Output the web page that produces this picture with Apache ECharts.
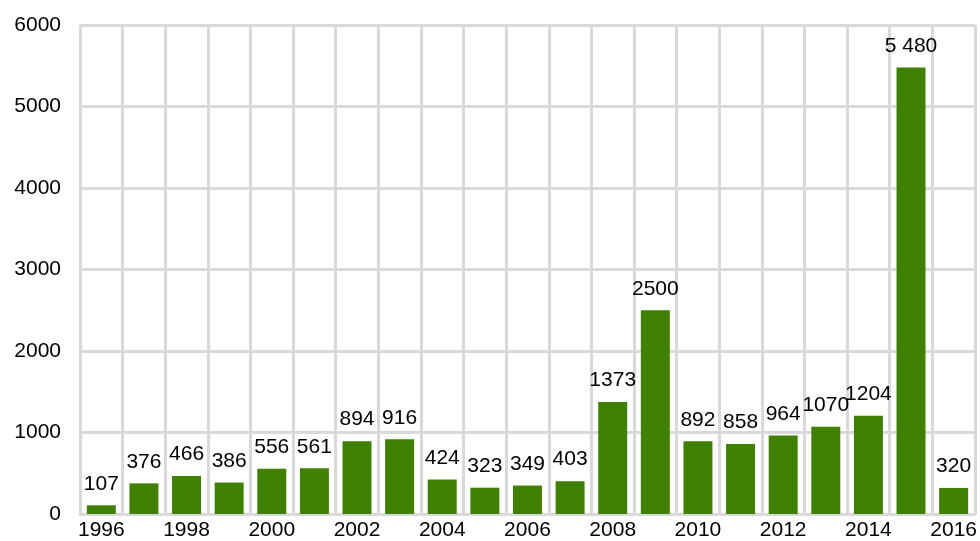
<!DOCTYPE html>
<html>
<head>
<meta charset="utf-8">
<script src="https://cdn.jsdelivr.net/npm/echarts@6/dist/echarts.min.js"></script>
<style>
  html, body { margin: 0; padding: 0; background: #fff; }
  #chart { width: 980px; height: 541px; }
</style>
</head>
<body>
<div id="chart"></div>
<script>
const years = ['1996', '1997', '1998', '1999', '2000', '2001', '2002', '2003', '2004', '2005', '2006',
  '2007', '2008', '2009', '2010', '2011', '2012', '2013', '2014', '2015', '2016'];
const values = [107, 376, 466, 386, 556, 561, 894, 916, 424, 323, 349,
  403, 1373, 2500, 892, 858, 964, 1070, 1204, 5480, 320];
// value labels as printed on the chart (the 2015 one has a thousands space)
const barLabels = ['107', '376', '466', '386', '556', '561', '894', '916', '424', '323', '349',
  '403', '1373', '2500', '892', '858', '964', '1070', '1204', '5 480', '320'];

const chart = echarts.init(document.getElementById('chart'));
const gridColor = '#d9d9d9';
const font = 'Liberation Sans, Arial, sans-serif';

chart.setOption({
  animation: false,
  grid: { left: 80, right: 5, top: 25, bottom: 26 },
  xAxis: {
    type: 'category',
    data: years,
    boundaryGap: true,
    axisLine: { show: true, lineStyle: { color: gridColor, width: 3 } },
    axisTick: { show: false },
    axisLabel: {
      interval: 1,
      color: '#000',
      fontSize: 21,
      fontFamily: font,
      margin: 6
    },
    splitLine: { show: true, interval: 0, lineStyle: { color: gridColor, width: 3 } }
  },
  yAxis: {
    type: 'value',
    min: 0,
    max: 6000,
    interval: 1000,
    axisLine: { show: false },
    axisTick: { show: false },
    axisLabel: {
      color: '#000',
      fontSize: 21,
      fontFamily: font,
      margin: 19,
      formatter: v => String(v)
    },
    splitLine: { show: true, lineStyle: { color: gridColor, width: 3 } }
  },
  series: [{
    type: 'bar',
    data: values,
    barCategoryGap: '32%',
    itemStyle: { color: '#3f8000' },
    label: {
      show: true,
      position: 'top',
      distance: 11,
      color: '#000',
      fontSize: 21,
      fontFamily: font,
      formatter: p => barLabels[p.dataIndex]
    }
  }]
});
</script>
</body>
</html>
